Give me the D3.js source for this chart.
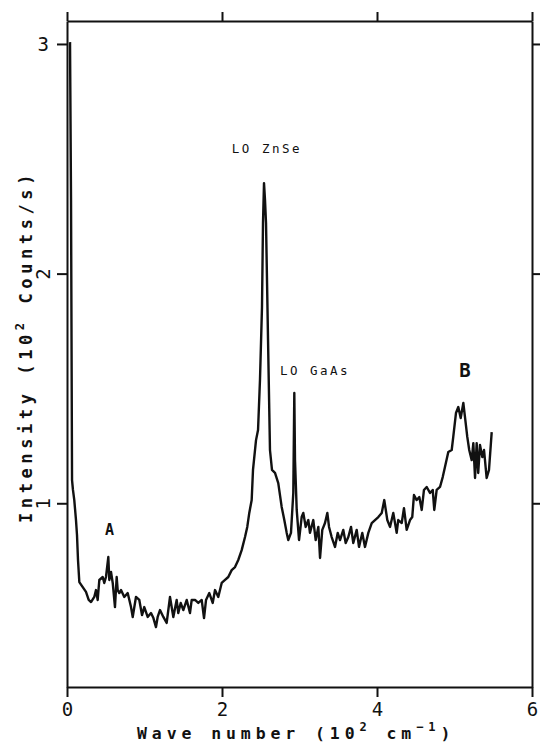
<!DOCTYPE html>
<html>
<head>
<meta charset="utf-8">
<script src="https://cdn.jsdelivr.net/npm/d3@7"></script>
<style>
  body { margin: 0; background: #fff; }
  svg { display: block; }
  text { font-family: "DejaVu Sans Mono", monospace; fill: #111; }
</style>
</head>
<body>
<svg id="chart" width="540" height="744"></svg>
<script>
// spectrum (x in 10^2 cm^-1, y in 10^2 counts/s)
var waveNumber = [0.039,0.052,0.065,0.077,0.094,0.116,0.129,0.142,0.159,0.203,0.245,0.280,0.310,0.352,0.374,0.396,0.417,0.461,0.481,0.503,0.533,0.546,0.568,0.590,0.619,0.641,0.654,0.675,0.697,0.739,0.783,0.826,0.848,0.890,0.933,0.968,0.997,1.041,1.084,1.115,1.148,1.170,1.200,1.243,1.286,1.329,1.372,1.415,1.436,1.467,1.501,1.545,1.587,1.609,1.652,1.694,1.738,1.768,1.794,1.836,1.880,1.910,1.952,1.996,2.039,2.081,2.125,2.168,2.210,2.254,2.297,2.326,2.352,2.383,2.400,2.439,2.465,2.490,2.516,2.529,2.542,2.555,2.568,2.594,2.619,2.645,2.684,2.726,2.770,2.804,2.835,2.855,2.890,2.920,2.933,2.942,2.964,2.994,3.028,3.049,3.080,3.114,3.135,3.178,3.209,3.243,3.265,3.294,3.329,3.359,3.381,3.415,3.458,3.493,3.523,3.565,3.596,3.630,3.665,3.694,3.738,3.768,3.810,3.845,3.888,3.932,3.974,4.017,4.061,4.094,4.133,4.168,4.210,4.254,4.274,4.319,4.348,4.383,4.426,4.455,4.477,4.512,4.546,4.577,4.606,4.641,4.684,4.719,4.739,4.770,4.813,4.848,4.877,4.920,4.964,4.984,5.019,5.049,5.080,5.114,5.135,5.165,5.190,5.222,5.243,5.265,5.286,5.306,5.329,5.359,5.381,5.415,5.445,5.480];
var intensity = [3.008,2.320,1.101,1.058,1.014,0.927,0.862,0.753,0.657,0.635,0.614,0.579,0.570,0.592,0.622,0.579,0.666,0.679,0.653,0.679,0.766,0.666,0.701,0.653,0.548,0.679,0.622,0.609,0.622,0.592,0.609,0.548,0.505,0.592,0.579,0.513,0.548,0.505,0.522,0.500,0.461,0.505,0.535,0.505,0.479,0.592,0.505,0.579,0.522,0.566,0.535,0.579,0.522,0.579,0.579,0.566,0.579,0.500,0.579,0.609,0.566,0.622,0.592,0.653,0.666,0.679,0.709,0.722,0.753,0.796,0.853,0.897,0.958,1.014,1.145,1.275,1.319,1.537,1.854,2.220,2.394,2.320,2.220,1.711,1.232,1.145,1.132,1.088,0.984,0.927,0.871,0.840,0.871,1.045,1.480,1.188,0.971,0.840,0.940,0.958,0.897,0.927,0.871,0.927,0.840,0.897,0.762,0.884,0.914,0.958,0.897,0.853,0.810,0.871,0.840,0.884,0.827,0.853,0.897,0.827,0.884,0.810,0.871,0.810,0.871,0.914,0.927,0.940,0.958,1.014,0.927,0.897,0.958,0.871,0.927,0.914,0.979,0.884,0.927,0.940,1.036,1.014,1.027,0.971,1.058,1.071,1.045,1.058,0.971,1.058,1.071,1.114,1.158,1.223,1.232,1.289,1.393,1.419,1.371,1.437,1.376,1.289,1.232,1.188,1.262,1.110,1.262,1.132,1.254,1.201,1.232,1.110,1.145,1.310];

var xTicks = [0, 2, 4, 6];
var yTicks = [1, 2, 3];

// peak labels: [text, x, y] in data units
var peakLabels = [
  ["LO ZnSe", 2.58, 2.525],
  ["LO GaAs", 3.20, 1.558]
];
var bandLabels = [
  ["A", 0.548, 0.862],
  ["B", 5.135, 1.55]
];

var svg = d3.select("#chart");

var x = d3.scaleLinear().domain([0, 6]).range([67, 532]);
var y = d3.scaleLinear().domain([0.2, 3.1]).range([687, 21]);

function styleAxis(g) {
  g.selectAll("path").attr("stroke", "#111").attr("stroke-width", 2);
  g.selectAll("line").attr("stroke", "#111").attr("stroke-width", 2);
}

// frame: four axes
svg.append("g")
  .attr("transform", "translate(0," + y.range()[0] + ")")
  .call(d3.axisBottom(x).tickValues(xTicks).tickFormat(d3.format("d"))
    .tickSize(10).tickSizeOuter(0).tickPadding(6))
  .call(styleAxis)
  .selectAll("text").attr("font-size", 19).attr("font-family", "DejaVu Sans Mono").attr("fill", "#111");

svg.append("g")
  .attr("transform", "translate(0," + y.range()[1] + ")")
  .call(d3.axisTop(x).tickValues(xTicks).tickFormat("").tickSize(9).tickSizeOuter(0))
  .call(styleAxis);

var left = svg.append("g")
  .attr("transform", "translate(" + x.range()[0] + ",0)")
  .call(d3.axisLeft(y).tickValues(yTicks).tickFormat(d3.format("d"))
    .tickSize(10).tickSizeOuter(0).tickPadding(8))
  .call(styleAxis);
left.selectAll("text").attr("font-size", 19).attr("font-family", "DejaVu Sans Mono").attr("fill", "#111");
// the 1 and 2 labels are drawn sideways in the original
left.selectAll(".tick text").filter(function(d) { return d !== 3; })
  .attr("x", 0).attr("dy", "0.35em").attr("text-anchor", "middle")
  .attr("transform", "translate(-24,0) rotate(-90)");

svg.append("g")
  .attr("transform", "translate(" + x.range()[1] + ",0)")
  .call(d3.axisRight(y).tickValues(yTicks).tickFormat("").tickSize(8).tickSizeOuter(0))
  .call(styleAxis);

// spectrum
var pts = waveNumber.map(function(w, i) { return [w, intensity[i]]; });
var line = d3.line().x(function(d) { return x(d[0]); }).y(function(d) { return y(d[1]); });
svg.append("path")
  .datum(pts)
  .attr("d", line)
  .attr("fill", "none")
  .attr("stroke", "#111")
  .attr("stroke-width", 2.4)
  .attr("stroke-linejoin", "round");

// annotations
svg.selectAll(".peak")
  .data(peakLabels)
  .enter().append("text")
  .attr("class", "peak")
  .attr("x", function(d) { return x(d[1]); })
  .attr("y", function(d) { return y(d[2]); })
  .attr("text-anchor", "middle")
  .attr("font-size", 12.5)
  .attr("letter-spacing", 2.5)
  .text(function(d) { return d[0]; });

svg.selectAll(".band")
  .data(bandLabels)
  .enter().append("text")
  .attr("class", "band")
  .attr("x", function(d) { return x(d[1]); })
  .attr("y", function(d) { return y(d[2]); })
  .attr("text-anchor", "middle")
  .attr("font-size", function(d) { return d[0] == "B" ? 19 : 15; })
  .attr("font-weight", "bold")
  .attr("font-family", "DejaVu Sans")
  .text(function(d) { return d[0]; });

// axis titles
var xt = svg.append("text")
  .attr("x", 137).attr("y", 739)
  .attr("font-size", 16.5).attr("font-weight", "bold")
  .attr("letter-spacing", 4.9);
xt.append("tspan").text("Wave number (10");
xt.append("tspan").attr("dy", -8).attr("font-size", 12).text("2");
xt.append("tspan").attr("dy", 8).text(" cm");
xt.append("tspan").attr("dy", -8).attr("font-size", 12).text("\u22121");
xt.append("tspan").attr("dy", 8).text(")");

var yt = svg.append("text")
  .attr("transform", "translate(32,523) rotate(-90)")
  .attr("x", 0).attr("y", 0)
  .attr("font-size", 17).attr("font-weight", "bold")
  .attr("letter-spacing", 4.6);
yt.append("tspan").text("Intensity (10");
yt.append("tspan").attr("dy", -8).attr("font-size", 12).text("2");
yt.append("tspan").attr("dy", 8).text(" Counts/s)");
</script>
</body>
</html>
